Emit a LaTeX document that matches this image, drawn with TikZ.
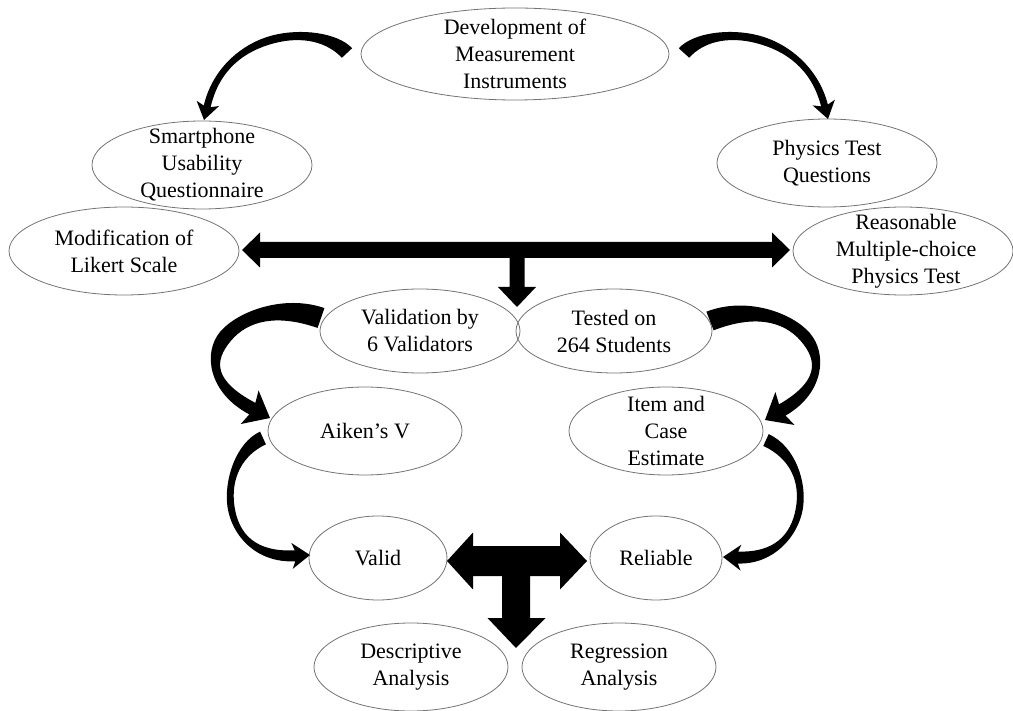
\documentclass[tikz,border=0pt]{standalone}
\usepackage{fontspec}
\setmainfont{Liberation Serif}
\usetikzlibrary{shapes.geometric,calc}
\tikzset{
  ell/.style n args={2}{ellipse, draw=black!55, line width=0.8pt, minimum width=#1pt, minimum height=#2pt, inner sep=0pt},
  txt/.style={align=center, inner sep=0pt, font=\fontsize{22}{27}\selectfont},
  arrowfill/.style={fill=black}
}
% tapered curved arrow: #1 start, #2 control 1, #3 control 2, #4 tip,
% #5 half width at start, #6 half width at middle, #7 half width at end,
% #8 head half width, #9 head length
\newcommand{\tarrow}[9]{%
  \coordinate (tP0) at (#1);
  \coordinate (tP1) at (#2);
  \coordinate (tP2) at (#3);
  \coordinate (tT) at (#4);
  \coordinate (tB) at ($(tT)!#9!(tP2)$);
  \coordinate (tQ1) at ($(tP0)!0.5!(tP1)$);
  \coordinate (tQ2) at ($0.25*(tP0)+0.5*(tP1)+0.25*(tP2)$);
  \coordinate (tM) at ($0.125*(tP0)+0.375*(tP1)+0.375*(tP2)+0.125*(tB)$);
  \coordinate (tR1) at ($0.25*(tP1)+0.5*(tP2)+0.25*(tB)$);
  \coordinate (tR2) at ($(tP2)!0.5!(tB)$);
  \coordinate (tW) at ($(tB)!3pt!(tR2)$);
  \fill[arrowfill]
    ($(tP0)!#5!90:(tQ1)$) .. controls ($(tQ1)!#5!-90:(tP0)$) and ($(tQ2)!#6!90:(tM)$) .. ($(tM)!#6!-90:(tQ2)$)
    .. controls ($(tR1)!#6!-90:(tM)$) and ($(tR2)!#7!90:(tB)$) .. ($(tB)!#7!-90:(tR2)$)
    -- ($(tW)!#8!-90:(tR2)$) -- (tT) -- ($(tW)!#8!90:(tR2)$)
    -- ($(tB)!#7!90:(tR2)$) .. controls ($(tR2)!#7!-90:(tB)$) and ($(tR1)!#6!90:(tM)$) .. ($(tM)!#6!90:(tQ2)$)
    .. controls ($(tQ2)!#6!-90:(tM)$) and ($(tQ1)!#5!90:(tP0)$) .. ($(tP0)!#5!-90:(tQ1)$) -- cycle;
}
\begin{document}
\begin{tikzpicture}[x=1pt,y=-1pt]
\useasboundingbox (0,0) rectangle (1013,711);

\node[ell={308}{92}, label={[txt]center:{Development of\\Measurement\\Instruments}}] (dev) at (515,54) {};
\node[ell={220}{88}, label={[txt]center:{Smartphone\\Usability\\Questionnaire}}] (smart) at (202,165) {};
\node[ell={230}{88}, label={[txt]center:{Modification of\\Likert Scale}}] (likert) at (124,251) {};
\node[ell={220}{88}, label={[txt]center:{Physics Test\\Questions}}] (phys) at (827,163) {};
\node[ell={220}{88}, label={[txt,xshift=3pt]center:{Reasonable\\Multiple-choice\\Physics Test}}] (reason) at (903,251) {};
\node[ell={200}{84}, label={[txt]center:{Validation by\\6 Validators}}] (val6) at (420,331) {};
\node[ell={196}{84}, label={[txt]center:{Tested on\\264 Students}}] (tested) at (614,331) {};
\node[ell={194}{88}, label={[txt]center:{Aiken’s V}}] (aiken) at (365,431) {};
\node[ell={194}{88}, label={[txt]center:{Item and\\Case\\Estimate}}] (item) at (666,431) {};
\node[ell={138}{84}, label={[txt]center:{Valid}}] (valid) at (378,558) {};
\node[ell={132}{84}, label={[txt]center:{Reliable}}] (reliable) at (656,558) {};
\node[ell={194}{88}, label={[txt]center:{Descriptive\\Analysis}}] (desc) at (411,667) {};
\node[ell={194}{88}, label={[txt]center:{Regression\\Analysis}}] (regr) at (619,667) {};

% curved tapered arrows
\tarrow{347,53}{318,22}{225,30}{204,120}{7pt}{4pt}{3.5pt}{11.5pt}{14pt}
\tarrow{684,53}{712,22}{805,30}{828,119}{7pt}{4pt}{3.5pt}{11.5pt}{14pt}
\tarrow{321,318}{240,290}{170,365}{270,418}{10.5pt}{7pt}{6.5pt}{19pt}{20pt}
\tarrow{710,321}{790,290}{860,365}{765,420}{10pt}{6pt}{6.5pt}{19pt}{20pt}
\tarrow{263,438}{215,460}{215,560}{310,555}{7pt}{3.5pt}{5.5pt}{13pt}{15pt}
\tarrow{766,440}{820,465}{810,560}{723,557}{6.5pt}{3.5pt}{6pt}{13pt}{15pt}

% top T-shaped arrow
\fill[arrowfill] (242,250) -- (260,232.5) -- (260,242) -- (772,242) -- (772,232.5) -- (790,250)
  -- (772,267.5) -- (772,258) -- (524.5,258) -- (524.5,287) -- (536,287) -- (517,307)
  -- (498,287) -- (509.5,287) -- (509.5,258) -- (260,258) -- (260,267.5) -- cycle;

% bottom T-shaped arrow
\fill[arrowfill] (447,561) -- (473,532.5) -- (473,546) -- (560,546) -- (560,532.5) -- (587,561)
  -- (560,589.5) -- (560,576) -- (530,576) -- (530,618) -- (545.5,618) -- (516,648)
  -- (487.5,618) -- (502,618) -- (502,576) -- (473,576) -- (473,589.5) -- cycle;
\end{tikzpicture}
\end{document}
